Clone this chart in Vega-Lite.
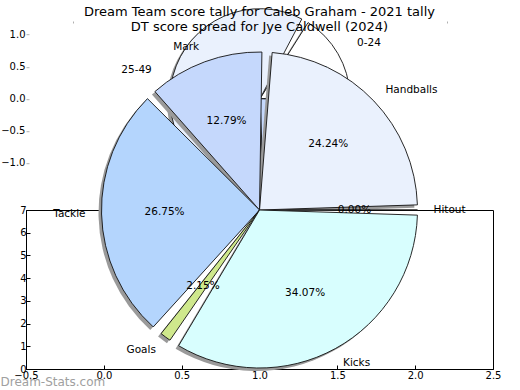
{
  "$schema": "https://vega.github.io/schema/vega-lite/v6.json",
  "width": 467,
  "height": 159,
  "autosize": {"type": "none"},
  "padding": {"left": 26, "top": 210, "right": 27, "bottom": 21},
  "background": "white",
  "title": {
    "text": ["Dream Team score tally for Caleb Graham - 2021 tally", "DT score spread for Jye Caldwell (2024)"],
    "font": "DejaVu Sans", "fontSize": 13, "fontWeight": "normal", "color": "black",
    "lineHeight": 15, "anchor": "middle", "frame": "group", "offset": -27
  },
  "config": {
    "view": {"stroke": "black", "strokeWidth": 1},
    "font": "DejaVu Sans",
    "axis": {"labelFont": "DejaVu Sans", "labelColor": "black", "grid": false, "labelOverlap": false, "labelFlush": false}
  },
  "datasets": {
    "fg": [
      {"stat": "Hitout", "share": 0.0},
      {"stat": "Handballs", "share": 0.2424},
      {"stat": "Mark", "share": 0.1279},
      {"stat": "Tackle", "share": 0.2675},
      {"stat": "Goals", "share": 0.0215},
      {"stat": "Kicks", "share": 0.3407}
    ],
    "bg": [
      {"range": "0-24", "share": 0.1667},
      {"range": "25-49", "share": 0.5833},
      {"range": "50-74", "share": 0.25}
    ]
  },
  "layer": [
    {
      "data": {"name": "bg"},
      "mark": {"type": "point", "opacity": 0},
      "encoding": {
        "x": {"datum": 0, "type": "quantitative", "scale": {"domain": [-1.2513, 1.246], "nice": false, "zero": false},
              "axis": {"orient": "top", "offset": 189, "values": [-1, 0, 1], "labels": false, "domain": false, "tickColor": "#b0b0b0", "tickSize": -2, "title": null}},
        "y": {"datum": 0, "type": "quantitative", "scale": {"domain": [-1.2421875, 1.2421875], "nice": false, "zero": false},
              "axis": {"orient": "left", "position": -190.8, "values": [-1, -0.5, 0, 0.5, 1], "format": ".1f", "domain": false, "tickColor": "#b0b0b0", "tickSize": -3, "labelPadding": 4, "labelFontSize": 10, "title": null}}
      }
    },
    {
      "data": {"name": "bg"},
      "transform": [{"window": [{"op": "row_number", "as": "n"}]}],
      "encoding": {
        "x": {"datum": 0, "type": "quantitative", "scale": {"domain": [-1.2513, 1.246], "nice": false, "zero": false}, "axis": null},
        "y": {"datum": 0, "type": "quantitative", "scale": {"domain": [-4.2234, -1.7391], "nice": false, "zero": false}, "axis": null},
        "theta": {"field": "share", "type": "quantitative", "stack": true, "scale": {"domain": [0, 1], "range": [1.5708, -4.7124]}},
        "detail": {"field": "range"},
        "order": {"field": "n", "type": "quantitative"}
      },
      "layer": [
        {"mark": {"type": "arc", "radius": 90, "padAngle": 0.08, "xOffset": -3, "yOffset": 3, "fill": "#9a9a9a"}},
        {"mark": {"type": "arc", "radius": 90, "padAngle": 0.08, "stroke": "#111111", "strokeWidth": 0.9},
         "encoding": {"color": {"field": "range", "type": "nominal", "scale": {"domain": ["0-24", "25-49", "50-74"], "range": ["#ffffff", "#eaf1fd", "#c5d8fc"]}, "legend": null}}},
        {"mark": {"type": "text", "radius": 112, "align": "right", "baseline": "middle", "fontSize": 10.5, "color": "black"},
         "encoding": {"text": {"field": "range"}, "opacity": {"condition": {"test": "datum.range == '25-49'", "value": 1}, "value": 0}}},
        {"mark": {"type": "text", "radius": 112, "align": "left", "baseline": "middle", "fontSize": 10.5, "color": "black"},
         "encoding": {"text": {"field": "range"}, "opacity": {"condition": {"test": "datum.range != '25-49'", "value": 1}, "value": 0}}},
        {"mark": {"type": "text", "radius": 56, "align": "center", "baseline": "middle", "fontSize": 10.5, "color": "black"},
         "encoding": {"text": {"field": "share", "type": "quantitative", "format": ".2%"}}}
      ]
    },
    {
      "data": {"name": "fg"},
      "transform": [{"window": [{"op": "row_number", "as": "n"}]}],
      "encoding": {
        "x": {"datum": 1, "type": "quantitative", "scale": {"domain": [-0.5, 2.5], "nice": false, "zero": false},
              "axis": {"orient": "bottom", "values": [-0.5, 0, 0.5, 1, 1.5, 2, 2.5], "format": ".1f", "domainColor": "black", "tickColor": "black", "tickSize": -4, "labelPadding": 5, "labelFontSize": 10,
                       "title": "Dream-Stats.com", "titleColor": "#a0a0a0", "titleFontSize": 12, "titleFontWeight": "normal", "titleAlign": "left", "titleAnchor": "start", "titleBaseline": "middle", "titleX": -26, "titleY": 12}},
        "y": {"datum": 7, "type": "quantitative", "scale": {"domain": [0, 7], "nice": false, "zero": false},
              "axis": {"orient": "left", "values": [0, 1, 2, 3, 4, 5, 6, 7], "format": "d", "domainColor": "black", "tickColor": "black", "tickSize": -4, "labelPadding": 4, "labelFontSize": 10, "title": null}},
        "theta": {"field": "share", "type": "quantitative", "stack": true, "scale": {"domain": [0, 1], "range": [1.5708, -4.7124]}},
        "detail": {"field": "stat"},
        "order": {"field": "n", "type": "quantitative"}
      },
      "layer": [
        {"mark": {"type": "arc", "radius": 158, "padAngle": 0.065, "xOffset": -3, "yOffset": 3, "fill": "#9a9a9a"}},
        {"mark": {"type": "arc", "radius": 158, "padAngle": 0.065, "stroke": "#111111", "strokeWidth": 0.9},
         "encoding": {"color": {"field": "stat", "type": "nominal", "scale": {"domain": ["Hitout", "Handballs", "Mark", "Tackle", "Goals", "Kicks"], "range": ["#dddddd", "#eaf1fd", "#c5d8fc", "#b4d5fd", "#cfe88c", "#d8fefe"]}, "legend": null}}},
        {"mark": {"type": "text", "radius": 174, "align": "left", "baseline": "middle", "fontSize": 10.5, "color": "black"},
         "encoding": {"text": {"field": "stat"}, "opacity": {"condition": {"test": "indexof(['Hitout','Handballs','Kicks'], datum.stat) >= 0", "value": 1}, "value": 0}}},
        {"mark": {"type": "text", "radius": 174, "align": "right", "baseline": "middle", "fontSize": 10.5, "color": "black"},
         "encoding": {"text": {"field": "stat"}, "opacity": {"condition": {"test": "indexof(['Mark','Tackle','Goals'], datum.stat) >= 0", "value": 1}, "value": 0}}},
        {"mark": {"type": "text", "radius": 95, "align": "center", "baseline": "middle", "fontSize": 10.5, "color": "black"},
         "encoding": {"text": {"field": "share", "type": "quantitative", "format": ".2%"}}}
      ]
    }
  ],
  "resolve": {
    "scale": {"x": "independent", "y": "independent", "theta": "independent", "color": "independent"},
    "axis": {"x": "independent", "y": "independent"}
  }
}
